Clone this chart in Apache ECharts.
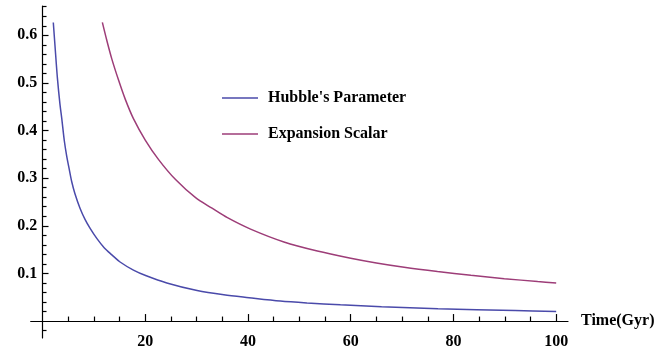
<!DOCTYPE html>
<html>
<head>
<meta charset="utf-8">
<script src="https://cdn.jsdelivr.net/npm/echarts@6/dist/echarts.min.js"></script>
<style>
  html, body { margin: 0; padding: 0; background: #ffffff; }
  #chart { width: 659px; height: 352px; }
</style>
</head>
<body>
<div id="chart"></div>
<script>
// Hubble's parameter H(t)
const hubbleTime = [2.1, 2.45, 2.9, 3.4, 3.75, 4.25, 4.7, 5.2, 5.7, 6.3, 7.3, 8.3, 9.3, 10.6, 12, 13.5, 15.1, 17.7, 20.2, 24.2, 30.1, 35.3, 40.2, 46.3, 51.5, 58, 66, 77, 92, 100];
const hubbleValue = [0.627, 0.575, 0.510, 0.455, 0.425, 0.378, 0.347, 0.319, 0.292, 0.268, 0.237, 0.213, 0.194, 0.173, 0.154, 0.139, 0.124, 0.107, 0.095, 0.080, 0.064, 0.055, 0.049, 0.042, 0.038, 0.034, 0.030, 0.026, 0.022, 0.020];

// Expansion scalar θ(t)
const thetaTime = [11.65, 12.5, 13.5, 14.8, 16.1, 17.7, 20, 22.6, 25.9, 29.8, 33, 36, 40.5, 47, 53.5, 60, 65, 70.4, 76.9, 83.4, 89.9, 96.4, 100];
const thetaValue = [0.627, 0.590, 0.550, 0.506, 0.466, 0.425, 0.380, 0.339, 0.297, 0.259, 0.237, 0.217, 0.193, 0.166, 0.147, 0.132, 0.122, 0.113, 0.104, 0.096, 0.089, 0.083, 0.080];

// Tick positions
const xMajorTicks = [20, 40, 60, 80, 100];
const xMinorTicks = [5, 10, 15, 25, 30, 35, 45, 50, 55, 65, 70, 75, 85, 90, 95];
const yMajorTicks = [0.1, 0.2, 0.3, 0.4, 0.5, 0.6];
const yMinorTicks = [-0.02, 0.02, 0.04, 0.06, 0.08, 0.12, 0.14, 0.16, 0.18, 0.22, 0.24, 0.26, 0.28,
  0.32, 0.34, 0.36, 0.38, 0.42, 0.44, 0.46, 0.48, 0.52, 0.54, 0.56, 0.58, 0.62, 0.64, 0.66];

const seriesNames = ["Hubble's Parameter", 'Expansion Scalar'];
const colors = ['#4a4aaa', '#9d3d78'];

const pairs = (xs, ys) => xs.map((x, i) => [x, ys[i]]);

const serif = '"Liberation Serif", "DejaVu Serif", serif';
const X_MIN = -2.3, X_MAX = 102.3, Y_MIN = -0.0356, Y_MAX = 0.6615;
const axisColor = '#000';

// Axes cross at the origin; labels are pulled in from the grid edge to sit beside the axis lines.
function xAxisDef(ticks, len, labels) {
  return {
    type: 'value', min: X_MIN, max: X_MAX, position: 'bottom',
    axisLine: { show: labels, onZero: true, lineStyle: { color: axisColor, width: 1.2 } },
    axisTick: { show: true, inside: true, length: len, customValues: ticks, lineStyle: { color: axisColor, width: 1.2 } },
    axisLabel: labels ? { show: true, customValues: xMajorTicks, margin: -4.5, color: '#000', fontFamily: serif, fontSize: 16, fontWeight: 'bold' } : { show: false },
    splitLine: { show: false },
    name: labels ? 'Time(Gyr)' : '',
    nameLocation: 'end', nameGap: 13,
    nameTextStyle: { color: '#000', fontFamily: serif, fontSize: 16, fontWeight: 'bold' }
  };
}
function yAxisDef(ticks, len, labels) {
  return {
    type: 'value', min: Y_MIN, max: Y_MAX, position: 'left',
    axisLine: { show: labels, onZero: true, onZeroAxisIndex: 0, lineStyle: { color: axisColor, width: 1.2 } },
    axisTick: { show: true, inside: true, length: len, customValues: ticks, lineStyle: { color: axisColor, width: 1.2 } },
    axisLabel: labels ? { show: true, customValues: yMajorTicks, margin: -6.5, color: '#000', fontFamily: serif, fontSize: 16, fontWeight: 'bold', formatter: v => v.toFixed(1) } : { show: false },
    splitLine: { show: false }
  };
}

const chart = echarts.init(document.getElementById('chart'), null, { renderer: 'canvas' });
chart.setOption({
  animation: false,
  backgroundColor: '#ffffff',
  grid: { left: 30.7, right: 91, top: 6, bottom: 14, containLabel: false, outerBoundsMode: 'none' },
  xAxis: [xAxisDef(xMajorTicks, 7, true), xAxisDef(xMinorTicks, 4.5, false)],
  yAxis: [yAxisDef(yMajorTicks, 6, true), yAxisDef(yMinorTicks, 4, false)],
  legend: {
    orient: 'vertical', left: 217, top: 85,
    icon: 'rect', itemWidth: 36, itemHeight: 1.6, itemGap: 20,
    textStyle: { color: '#000', fontFamily: serif, fontSize: 16, fontWeight: 'bold', padding: [0, 0, 0, 5] },
    data: seriesNames
  },
  series: [
    {
      name: seriesNames[0], type: 'line', xAxisIndex: 0, yAxisIndex: 0,
      data: pairs(hubbleTime, hubbleValue), smooth: 0.3, symbol: 'none',
      lineStyle: { color: colors[0], width: 1.5 }, itemStyle: { color: colors[0] }
    },
    {
      name: seriesNames[1], type: 'line', xAxisIndex: 0, yAxisIndex: 0,
      data: pairs(thetaTime, thetaValue), smooth: 0.3, symbol: 'none',
      lineStyle: { color: colors[1], width: 1.5 }, itemStyle: { color: colors[1] }
    }
  ]
});
</script>
</body>
</html>
